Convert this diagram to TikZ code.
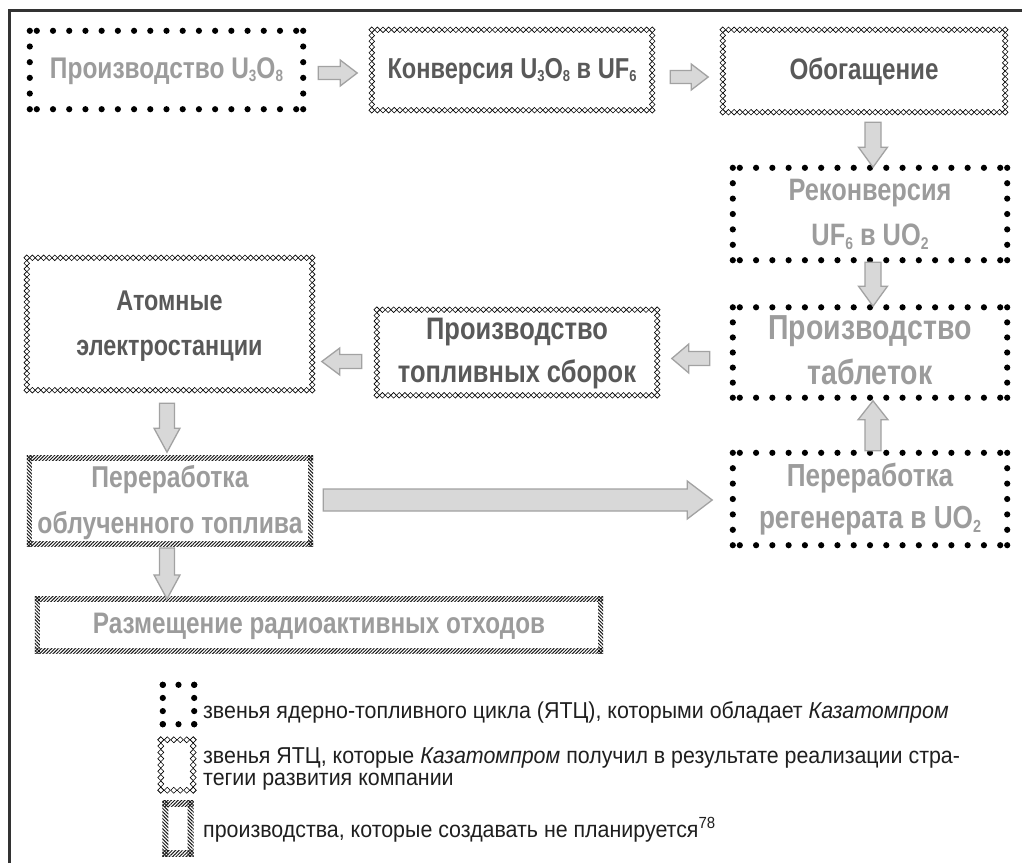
\documentclass[tikz,border=0pt]{standalone}
\usepackage{fontspec}
\usepackage{graphicx}
\setmainfont{Liberation Sans}
\newfontfamily\boxfont[FakeStretch=0.82]{Liberation Sans}
\newfontfamily\legfont[FakeStretch=0.93]{Liberation Sans}
\usetikzlibrary{calc,patterns.meta}
\definecolor{frameC}{HTML}{333333}
\definecolor{lightT}{HTML}{9C9C9C}
\definecolor{darkT}{HTML}{595959}
\definecolor{arrF}{HTML}{D8D8D8}
\definecolor{arrD}{HTML}{A2A2A2}
\newcommand\fitw[2]{\resizebox{#1pt}{!}{\begin{tabular}{@{}c@{}}#2\end{tabular}}}
\newcommand\sbs[1]{\raisebox{-0.12em}{\scalebox{0.55}{#1}}}
\tikzset{
  box/.style={draw=none, inner sep=0pt, align=center},
  fs/.style={font=\boxfont\bfseries\fontsize{27}{#1}\selectfont},
  ownbox/.style={box, text=lightT},
  gotbox/.style={box, text=darkT},
  nobox/.style={box, text=lightT},
  dotmark/.style={fill=black},
  diamark/.style={draw=black, fill=white, line width=0.6pt},
  hatchtb/.style={pattern={Lines[angle=45,distance=2.4pt,line width=1pt]}, pattern color=black!90},
  hatchlr/.style={pattern={Lines[angle=-45,distance=2.4pt,line width=1pt]}, pattern color=black!90},
  blockarrow/.style={fill=arrF, draw=arrD, line width=1.3pt, line join=miter},
  frameline/.style={draw=frameC, line width=2.2pt},
  legtext/.style={anchor=west, align=left, inner sep=0pt, text=black!88, font=\legfont\fontsize{23}{22}\selectfont},
  pics/barrow/.style args={#1/#2/#3/#4}{code={%
    \draw[blockarrow] (0,-#2) -- ({#1-#4},-#2) -- ({#1-#4},-#3) -- (#1,0) -- ({#1-#4},#3) -- ({#1-#4},#2) -- (0,#2) -- cycle;}},
}
% frames drawn around named nodes
\newcommand\dotframe[3]{%
  \foreach \i in {0,...,#2}{%
    \fill[dotmark] ($(#1.north west)!\i/#2!(#1.north east)$) circle (3.1);
    \fill[dotmark] ($(#1.south west)!\i/#2!(#1.south east)$) circle (3.1);}
  \foreach \i in {0,...,#3}{%
    \fill[dotmark] ($(#1.north west)!\i/#3!(#1.south west)$) circle (3.1);
    \fill[dotmark] ($(#1.north east)!\i/#3!(#1.south east)$) circle (3.1);}
}
% box frame: rows start with a doubled dot at each corner
\newcommand\dotframeD[3]{%
  \foreach \i in {0,...,#2}{%
    \fill[dotmark] ($($(#1.north west)+(7,0)$)!\i/#2!($(#1.north east)+(-7,0)$)$) circle (3.1);
    \fill[dotmark] ($($(#1.south west)+(7,0)$)!\i/#2!($(#1.south east)+(-7,0)$)$) circle (3.1);}
  \foreach \i in {0,...,#3}{%
    \fill[dotmark] ($(#1.north west)!\i/#3!(#1.south west)$) circle (3.1);
    \fill[dotmark] ($(#1.north east)!\i/#3!(#1.south east)$) circle (3.1);}
}
\newcommand\diaframe[4]{%
  \foreach \i in {0,...,#2}{%
    \draw[diamark] ($(#1.north west)!\i/#2!(#1.north east)$) +(-#4,0) -- +(0,#4) -- +(#4,0) -- +(0,-#4) -- cycle;
    \draw[diamark] ($(#1.south west)!\i/#2!(#1.south east)$) +(-#4,0) -- +(0,#4) -- +(#4,0) -- +(0,-#4) -- cycle;}
  \foreach \i in {0,...,#3}{%
    \draw[diamark] ($(#1.north west)!\i/#3!(#1.south west)$) +(-#4,0) -- +(0,#4) -- +(#4,0) -- +(0,-#4) -- cycle;
    \draw[diamark] ($(#1.north east)!\i/#3!(#1.south east)$) +(-#4,0) -- +(0,#4) -- +(#4,0) -- +(0,-#4) -- cycle;}
}
\newcommand\hatchframe[2]{%
  \path[hatchtb] (#1.north west) rectangle ($(#1.north east)+(0,#2)$);
  \path[hatchtb] ($(#1.south west)+(0,-#2)$) rectangle (#1.south east);
  \path[hatchlr] (#1.north west) rectangle ($(#1.south west)+(#2,0)$);
  \path[hatchlr] ($(#1.north east)+(-#2,0)$) rectangle (#1.south east);
}
\begin{document}
\begin{tikzpicture}[x=1pt,y=-1pt]
\useasboundingbox (0,0) rectangle (1022,863);
\fill[white] (0,0) rectangle (1022,863);
\draw[frameline] (9.5,863) -- (9.5,10.5) -- (1022,10.5);

% boxes
\node[ownbox, fs=38, minimum width=273, minimum height=78] (b1) at (166.5,70) {\fitw{233}{Производство U\sbs{3}O\sbs{8}}};
\node[gotbox, fs=38, minimum width=280, minimum height=80] (b2) at (512,70) {\fitw{249}{Конверсия U\sbs{3}O\sbs{8} в UF\sbs{6}}};
\node[gotbox, fs=38, minimum width=282, minimum height=82] (b3) at (864,71) {\fitw{149}{Обогащение}};
\node[ownbox, fs=39, minimum width=274, minimum height=92] (b4) at (870,214) {\fitw{163}{Реконверсия\\UF\sbs{6} в UO\sbs{2}}};
\node[ownbox, fs=35, minimum width=274, minimum height=89] (b5) at (870,352.5) {\fitw{203}{Производство\\таблеток}};
\node[ownbox, fs=36, minimum width=274, minimum height=92] (b6) at (870,499) {\fitw{222}{Переработка\\регенерата в UO\sbs{2}}};
\node[gotbox, fs=37, minimum width=280, minimum height=85] (b7) at (517,352.5) {\fitw{238}{Производство\\топливных сборок}};
\node[gotbox, fs=43, minimum width=285, minimum height=132] (b8) at (169.5,324) {\fitw{186}{Атомные\\электростанции}};
\node[nobox, fs=41, minimum width=286, minimum height=82] (b9) at (170,501) {\fitw{265}{Переработка\\облученного топлива}};
\node[nobox, fs=38, minimum width=568, minimum height=56] (b10) at (319,625) {\fitw{452}{Размещение радиоактивных отходов}};

\dotframeD{b1}{16}{5}
\dotframeD{b4}{16}{6}
\dotframeD{b5}{16}{6}
\dotframeD{b6}{16}{6}
\diaframe{b2}{50}{14}{2.8}
\diaframe{b3}{50}{15}{2.8}
\diaframe{b7}{50}{15}{2.8}
\diaframe{b8}{51}{24}{2.8}
\hatchframe{b9}{5}
\hatchframe{b10}{5}

% connectors (block arrows)
\pic at ($(b1.east)+(15,3)$) {barrow=39/6.5/13/17};
\pic at ($(b2.east)+(18,7)$) {barrow=38/6.5/13/17};
\pic[rotate=-90] at ($(b3.south)+(9,10)$) {barrow=45/8/14.5/20};
\pic[rotate=-90] at ($(b4.south)+(3,2)$) {barrow=44/8/14.5/20};
\pic[rotate=90] at ($(b6.north)+(3,-2)$) {barrow=50/8/15/19};
\pic[rotate=180] at ($(b5.west)+(-23,6)$) {barrow=38/7/14.5/17};
\pic[rotate=180] at ($(b7.west)+(-15,9)$) {barrow=40/7/13.5/18};
\pic[rotate=-90] at ($(b8.south)+(-2.5,13)$) {barrow=49/7.5/13/24};
\pic at ($(b9.east)+(10,-1)$) {barrow=389/11/19/25};
\pic[rotate=-90] at ($(b9.south)+(-3,1)$) {barrow=51/7.5/13/24};

% legend
\node[box, minimum width=31, minimum height=39] (leg1) at (178.5,704.5) {};
\dotframe{leg1}{2}{3}
\node[box, minimum width=32, minimum height=50] (leg2) at (177,765) {};
\diaframe{leg2}{5}{8}{3}
\node[box, minimum width=31, minimum height=56] (leg3) at (178,828.5) {};
\hatchframe{leg3}{6}

\node[legtext] (t1) at (203,712) {звенья ядерно-топливного цикла (ЯТЦ), которыми обладает \textit{Казатомпром}};
\node[legtext] (t2) at (203,769) {звенья ЯТЦ, которые \textit{Казатомпром} получил в результате реализации стра-\\тегии развития компании};
\node[legtext] (t3) at (203,830) {производства, которые создавать не планируется\textsuperscript{78}};
\end{tikzpicture}
\end{document}
